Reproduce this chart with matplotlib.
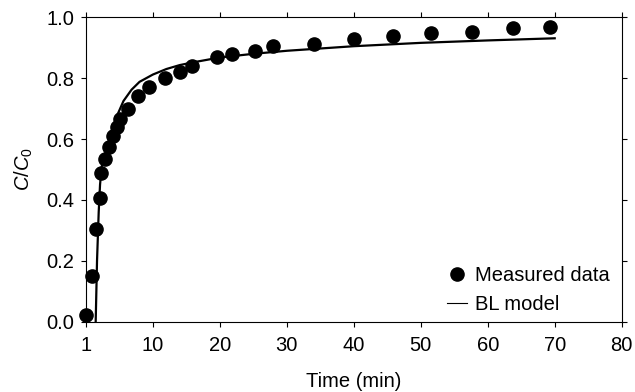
import matplotlib
matplotlib.use("Agg")
import matplotlib.pyplot as plt
from matplotlib.lines import Line2D

# Measured breakthrough data
time_meas = [0.0, 0.85, 1.45, 2.1, 2.3, 2.9, 3.45, 4.0, 4.6, 5.05, 6.35, 7.8,
             9.45, 11.8, 14.0, 15.9, 19.5, 21.8, 25.2, 28.0, 34.1, 40.1,
             45.8, 51.6, 57.6, 63.7, 69.3]
conc_meas = [0.022, 0.15, 0.305, 0.405, 0.49, 0.535, 0.575, 0.61, 0.64, 0.665,
             0.70, 0.74, 0.772, 0.80, 0.82, 0.84, 0.87, 0.88, 0.89, 0.905,
             0.911, 0.928, 0.938, 0.949, 0.953, 0.964, 0.967]

# BL model curve
time_model = [1.45, 1.65, 1.9, 2.1, 2.35, 3.0, 4.0, 4.7, 5.1, 5.6, 6.8, 8.0,
              10.0, 12.0, 14.0, 16.0, 20.0, 25.0, 30.0, 40.0, 50.0, 60.0, 70.0]
conc_model = [0.0, 0.2, 0.36, 0.45, 0.51, 0.56, 0.63, 0.68, 0.70, 0.725,
              0.762, 0.788, 0.812, 0.830, 0.843, 0.852, 0.868, 0.880, 0.890,
              0.905, 0.916, 0.924, 0.931]

x_ticks = [0, 10, 20, 30, 40, 50, 60, 70, 80]
x_tick_labels = ["1", "10", "20", "30", "40", "50", "60", "70", "80"]
y_ticks = [0.0, 0.2, 0.4, 0.6, 0.8, 1.0]

plt.rcParams["font.family"] = ["Liberation Sans", "DejaVu Sans"]
plt.rcParams["mathtext.fontset"] = "custom"
plt.rcParams["mathtext.rm"] = "Liberation Sans"
plt.rcParams["mathtext.it"] = "Liberation Sans:italic"

font_size = 14.5

fig = plt.figure(figsize=(6.35, 3.92), dpi=100)
ax = fig.add_axes([0.1354, 0.1793, 0.979 - 0.1354, 0.9559 - 0.1793])

ax.plot(time_model, conc_model, color="black", linewidth=1.6, zorder=2)
ax.plot(time_meas, conc_meas, linestyle="", marker="o", markersize=9.5,
        color="black", zorder=3, clip_on=False)

ax.set_xlim(0, 80)
ax.set_ylim(0, 1.0)
ax.set_xticks(x_ticks)
ax.set_xticklabels(x_tick_labels)
ax.set_yticks(y_ticks)
ax.set_yticklabels([f"{v:.1f}" for v in y_ticks])

ax.tick_params(direction="out", length=3.5, width=0.8, labelsize=font_size,
               top=True, right=True, colors="black")
ax.tick_params(axis="x", pad=7)
ax.tick_params(axis="y", pad=5)
for spine in ax.spines.values():
    spine.set_linewidth(0.8)

ax.set_xlabel("Time (min)", fontsize=font_size, labelpad=12)
ax.set_ylabel(r"$C/C_0$", fontsize=font_size, labelpad=8)

# Legend with a thin line handle
handles = [
    Line2D([], [], linestyle="", marker="o", markersize=9.5, color="black"),
    Line2D([], [], color="black", linewidth=0.8),
]
ax.legend(handles, ["Measured data", "BL model"], loc="lower right",
          frameon=False, fontsize=font_size, handlelength=1.0,
          handletextpad=0.4, labelspacing=0.5, borderaxespad=0.3,
          bbox_to_anchor=(1.005, -0.02))

fig.savefig("out.png", dpi=100)
